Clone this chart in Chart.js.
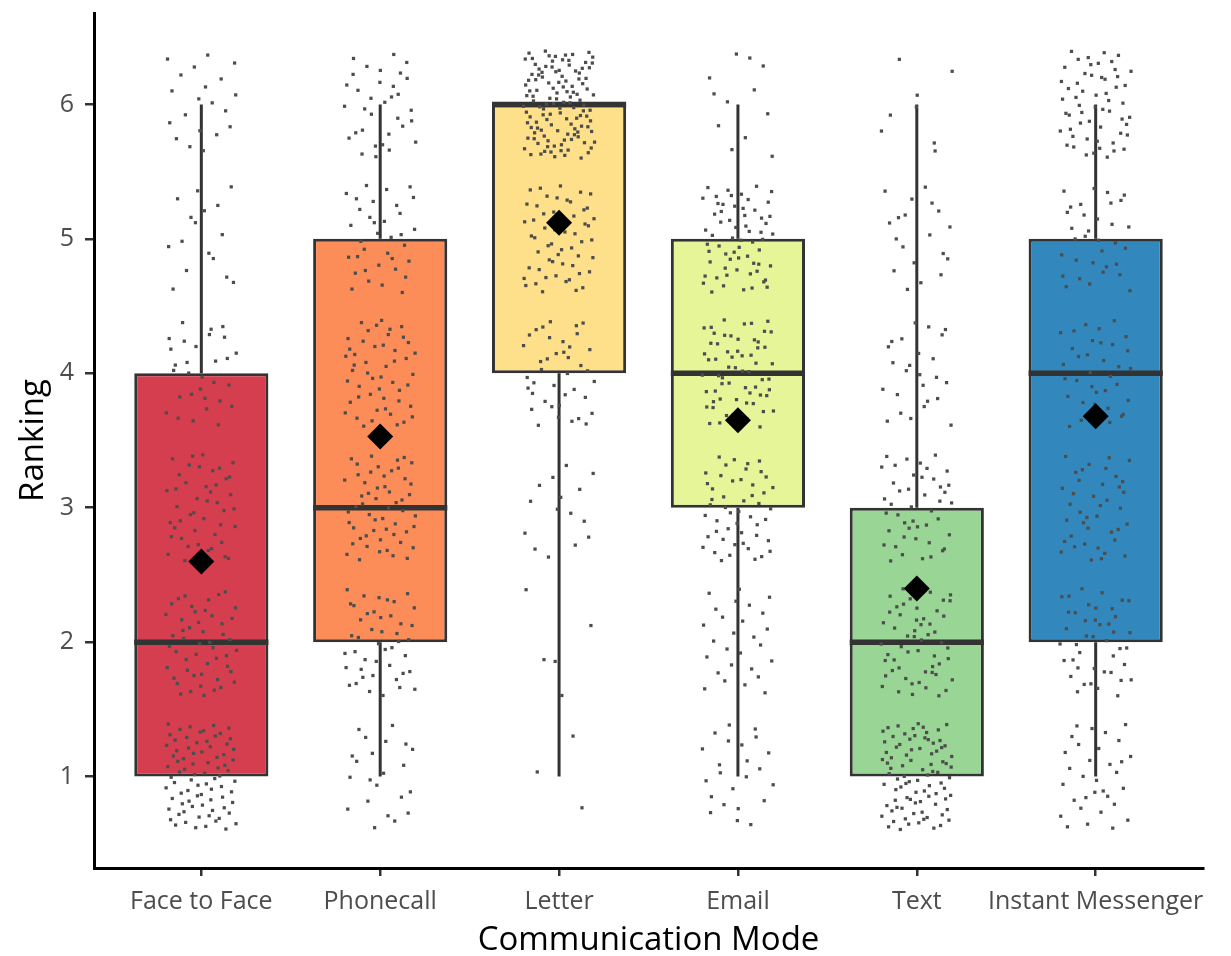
<!DOCTYPE html>
<html>
<head>
<meta charset="utf-8">
<script src="https://cdn.jsdelivr.net/npm/chart.js@4.4.0/dist/chart.umd.min.js"></script>
<style>
    html, body { margin: 0; padding: 0; background: #fff; }
    #wrap { width: 1231px; height: 956px; }
</style>
</head>
<body>
<div id="wrap"><canvas id="chart" width="1231" height="956"></canvas></div>
<script>
// Categories and box statistics
const categories = ['Face to Face', 'Phonecall', 'Letter', 'Email', 'Text', 'Instant Messenger'];
const rankTicks = [1, 2, 3, 4, 5, 6];
const q1 = [1, 2, 4, 3, 1, 2];
const medians = [2, 3, 6, 4, 2, 4];
const q3 = [4, 5, 6, 5, 3, 5];
const whiskerLow = [1, 1, 1, 1, 1, 1];
const whiskerHigh = [6, 6, 6, 6, 6, 6];
const means = [2.6, 3.53, 5.12, 3.65, 2.4, 3.68];

// Number of answers per rank (1..6), estimated from the jittered dots
const faceToFaceCounts = [80, 50, 45, 30, 16, 20];
const phonecallCounts = [22, 45, 55, 50, 35, 33];
const letterCounts = [3, 5, 15, 40, 55, 122];
const emailCounts = [23, 27, 50, 65, 63, 12];
const textCounts = [88, 55, 45, 25, 19, 8];
const messengerCounts = [32, 43, 40, 35, 33, 57];
const rankCounts = [faceToFaceCounts, phonecallCounts, letterCounts, emailCounts, textCounts, messengerCounts];

const boxColors = ['#D53E4F', '#FC8D59', '#FEE08B', '#E6F598', '#99D594', '#3288BD'];
const edge = '#333333';

// halton sequence - only used to spread dots around their rank (display jitter)
function halton(i, b) {
    let f = 1, r = 0;
    while (i > 0) { f /= b; r += f * (i % b); i = Math.floor(i / b); }
    return r;
}

const jitterPoints = [];
rankCounts.forEach((counts, c) => {
    let k = 1 + c * 37;
    counts.forEach((n, r) => {
        for (let j = 0; j < n; j++, k++) {
            jitterPoints.push({
                x: c + 1 + (halton(k, 2) - 0.5) * 0.4,
                y: rankTicks[r] + (halton(k, 3) - 0.5) * 0.8
            });
        }
    });
});

const whiskerData = [];
const medianData = [];
categories.forEach((c, i) => {
    const x = i + 1;
    whiskerData.push({x, y: whiskerHigh[i]}, {x, y: q3[i]}, {x, y: null});
    whiskerData.push({x, y: q1[i]}, {x, y: whiskerLow[i]}, {x, y: null});
    medianData.push({x: x - 0.375, y: medians[i]}, {x: x + 0.375, y: medians[i]}, {x, y: null});
});

const tickFont = { family: "'Open Sans', sans-serif", size: 25 };
const titleFont = { family: "'Open Sans', sans-serif", size: 33 };

new Chart(document.getElementById('chart'), {
    type: 'scatter',
    data: {
        datasets: [
            {
                label: 'mean',
                data: means.map((m, i) => ({x: i + 1, y: m})),
                pointStyle: 'rectRot',
                pointRadius: 13,
                backgroundColor: '#000',
                borderWidth: 0
            },
            {
                label: 'answers',
                data: jitterPoints,
                pointStyle: 'rect',
                pointRadius: 2.3,
                backgroundColor: '#4D4D4D',
                borderWidth: 0
            },
            {
                label: 'median',
                data: medianData,
                showLine: true,
                pointRadius: 0,
                borderColor: edge,
                borderWidth: 5.5,
                spanGaps: false
            },
            {
                type: 'bar',
                label: 'box',
                data: categories.map((c, i) => ({x: i + 1, y: [q1[i], q3[i]]})),
                backgroundColor: boxColors,
                borderColor: edge,
                borderWidth: 3,
                borderSkipped: false,
                categoryPercentage: 1,
                barPercentage: 0.75
            },
            {
                label: 'whisker',
                data: whiskerData,
                showLine: true,
                pointRadius: 0,
                borderColor: edge,
                borderWidth: 3,
                spanGaps: false
            }
        ]
    },
    options: {
        responsive: false,
        animation: false,
        events: [],
        layout: { padding: { top: 10, right: 28, left: 0, bottom: 0 } },
        plugins: {
            legend: { display: false },
            tooltip: { enabled: false }
        },
        scales: {
            x: {
                type: 'linear',
                min: 0.4,
                max: 6.6,
                offset: false,
                afterFit: s => { s.height = 88; s.paddingLeft = 0; s.paddingRight = 0; },
                afterBuildTicks: s => { s.ticks = categories.map((c, i) => ({value: i + 1})); },
                ticks: {
                    callback: v => categories[v - 1],
                    color: '#4D4D4D',
                    font: tickFont,
                    padding: 11,
                    maxRotation: 0,
                    autoSkip: false
                },
                grid: { offset: false, drawOnChartArea: false, drawTicks: true, tickLength: 8, color: edge, lineWidth: 2.5 },
                border: { display: true, color: '#000', width: 3 },
                title: { display: true, text: 'Communication Mode', color: '#000', font: titleFont, padding: { top: 0, bottom: -4 } }
            },
            y: {
                min: 0.32,
                max: 6.68,
                afterFit: s => { s.width = 94; s.paddingTop = 0; s.paddingBottom = 0; },
                afterBuildTicks: s => { s.ticks = rankTicks.map(v => ({value: v})); },
                ticks: { color: '#4D4D4D', font: tickFont, padding: 11 },
                grid: { drawOnChartArea: false, drawTicks: true, tickLength: 9, color: edge, lineWidth: 2.5 },
                border: { display: true, color: '#000', width: 3 },
                title: { display: true, text: 'Ranking', color: '#000', font: titleFont, padding: { top: 14, bottom: 0 } }
            }
        }
    }
});
</script>
</body>
</html>
